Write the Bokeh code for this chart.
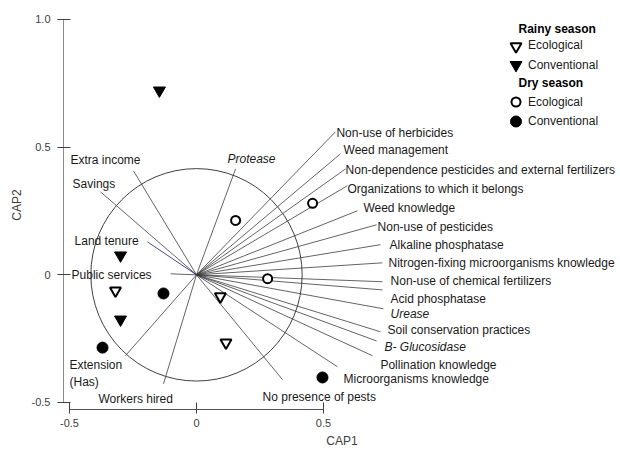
from bokeh.plotting import figure
from bokeh.models import FixedTicker, CustomJSTickFormatter, ColumnDataSource
from bokeh.core.properties import value
from bokeh.embed import file_html
from bokeh.resources import INLINE

# ---- sample scores (CAP1, CAP2) ----
rainy_eco_x = [-0.319, 0.094, 0.116]
rainy_eco_y = [-0.062, -0.085, -0.266]
rainy_conv_x = [-0.146, -0.299, -0.299]
rainy_conv_y = [0.722, 0.076, -0.175]
dry_eco_x = [0.154, 0.457, 0.280]
dry_eco_y = [0.213, 0.280, -0.015]
dry_conv_x = [-0.130, -0.370, 0.496]
dry_conv_y = [-0.073, -0.285, -0.402]

# ---- variable vectors (correlations) ----
var_names = [
    "Non-use of herbicides", "Weed management",
    "Non-dependence pesticides and external fertilizers",
    "Organizations to which it belongs", "Weed knowledge",
    "Non-use of pesticides", "Alkaline phosphatase",
    "Nitrogen-fixing microorganisms knowledge",
    "Non-use of chemical fertilizers", "Acid phosphatase", "Urease",
    "Soil conservation practices", "B- Glucosidase",
    "Pollination knowledge", "Microorganisms knowledge",
    "No presence of pests", "Protease", "Extra income", "Savings",
    "Land tenure", "Public services", "Extension\n(Has)", "Workers hired",
]
var_x = [0.547, 0.567, 0.587, 0.594, 0.634, 0.709, 0.724, 0.732, 0.732, 0.732,
         0.736, 0.724, 0.709, 0.693, 0.555, 0.339, 0.154, -0.248, -0.378,
         -0.193, -0.102, -0.280, -0.130]
var_y = [0.560, 0.474, 0.415, 0.349, 0.251, 0.196, 0.118, 0.047, -0.027, -0.059,
         -0.133, -0.223, -0.259, -0.317, -0.360, -0.411, 0.415, 0.407, 0.325,
         0.129, 0.004, -0.317, -0.427]
var_italic = [False] * 10 + [True, False, True, False, False, False, True] + [False] * 6
var_color = ["#3c3c3c"] * 19 + ["#1c1c78"] + ["#3c3c3c"] * 3
# label anchor positions (left edge, vertical middle)
lab_x = [0.551, 0.579, 0.587, 0.594, 0.657, 0.713, 0.760, 0.756, 0.764, 0.764,
         0.764, 0.752, 0.740, 0.724, 0.579, 0.260, 0.122, -0.496, -0.488,
         -0.480, -0.492, -0.500, -0.386]
lab_y = [0.554, 0.487, 0.409, 0.338, 0.260, 0.189, 0.115, 0.048, -0.026, -0.093,
         -0.155, -0.218, -0.281, -0.352, -0.407, -0.477, 0.452, 0.448, 0.354,
         0.131, 0.001, -0.385, -0.485]

circle_r = [0.416]
x_ticks = [-0.5, 0, 0.5]
y_ticks = [-0.5, 0, 0.5, 1.0]

# legend content
legend_titles = ["Rainy season", "Dry season"]
legend_labels = ["Ecological", "Conventional", "Ecological", "Conventional"]

FONT = "Liberation Sans"

X0, X1 = -0.52362, 1.66929
Y0, Y1 = -0.52742, 1.07441
FW, FH = 557, 409

p = figure(frame_width=FW, frame_height=FH, x_range=(X0, X1), y_range=(Y0, Y1),
           min_border_left=63, min_border_right=0, min_border_top=0, min_border_bottom=40,
           output_backend="svg", toolbar_location=None)
p.xgrid.visible = False
p.ygrid.visible = False
p.outline_line_color = None


def sx(px):  # screen x (frame px) -> data
    return X0 + px / FW * (X1 - X0)


def sy(py):  # screen y from top (frame px) -> data
    return Y1 - py / FH * (Y1 - Y0)


vec = ColumnDataSource(dict(x0=[0] * len(var_x), y0=[0] * len(var_y), x1=var_x, y1=var_y,
                            c=var_color))
p.segment(x0="x0", y0="y0", x1="x1", y1="y1", line_color="c", line_width=0.8, source=vec)
p.ellipse(x=[0], y=[0], width=[2 * r for r in circle_r], height=[2 * r for r in circle_r],
          fill_color=None, line_color="#404040", line_width=1)

open_tri = dict(marker="inverted_triangle", size=11, fill_color="white", line_color="black", line_width=2)
full_tri = dict(marker="inverted_triangle", size=12, fill_color="black", line_color="black", line_width=1)
open_cir = dict(marker="circle", size=9, fill_color="white", line_color="black", line_width=2)
full_cir = dict(marker="circle", size=11, fill_color="black", line_color="black", line_width=1)

p.scatter(rainy_eco_x, rainy_eco_y, **open_tri)
p.scatter(rainy_conv_x, rainy_conv_y, **full_tri)
p.scatter(dry_eco_x, dry_eco_y, **open_cir)
p.scatter(dry_conv_x, dry_conv_y, **full_cir)

reg = ColumnDataSource(dict(x=[lab_x[i] for i in range(len(lab_x)) if not var_italic[i]],
                            y=[lab_y[i] for i in range(len(lab_y)) if not var_italic[i]],
                            t=[var_names[i] for i in range(len(var_names)) if not var_italic[i]]))
ita = ColumnDataSource(dict(x=[lab_x[i] for i in range(len(lab_x)) if var_italic[i]],
                            y=[lab_y[i] for i in range(len(lab_y)) if var_italic[i]],
                            t=[var_names[i] for i in range(len(var_names)) if var_italic[i]]))
p.text(x="x", y="y", text="t", source=reg, text_font=value(FONT), text_font_size="12px",
       text_color="#1a1a1a", text_baseline="middle", text_align="left")
p.text(x="x", y="y", text="t", source=ita, text_font=value(FONT), text_font_size="12px",
       text_font_style="italic", text_color="#1a1a1a", text_baseline="middle", text_align="left")

# ---- legend (drawn in the plot's top-right corner; layout in frame pixels) ----
leg_marker_px = 452.5
leg_text_px = 464.5
leg_title_px = 455
leg_title_py = [28.5, 82.5]
leg_marker_py = [46, 64.5, 101.5, 121]
leg_text_py = [44.5, 64, 101, 120]
p.text(x=[sx(leg_title_px)] * 2, y=[sy(v) for v in leg_title_py], text=legend_titles,
       text_font=value(FONT), text_font_size="12px", text_font_style="bold",
       text_color="black", text_baseline="middle", text_align="left")
p.text(x=[sx(leg_text_px)] * 4, y=[sy(v) for v in leg_text_py], text=legend_labels,
       text_font=value(FONT), text_font_size="12px", text_color="#1a1a1a",
       text_baseline="middle", text_align="left")
for style, py in zip([open_tri, full_tri, open_cir, full_cir], leg_marker_py):
    p.scatter([sx(leg_marker_px)], [sy(py)], **style)

# axes
xa = p.xaxis[0]
xa.bounds = (-0.5, 0.5)
xa.ticker = FixedTicker(ticks=x_ticks)
ya = p.yaxis[0]
ya.bounds = (-0.5, 1.0)
ya.ticker = FixedTicker(ticks=y_ticks)
fmt = "return tick == 0 ? '0' : tick.toFixed(1);"
for ax in (xa, ya):
    ax.formatter = CustomJSTickFormatter(code=fmt)
    ax.minor_tick_line_color = None
    ax.major_tick_line_color = "#404040"
    ax.major_label_text_font = FONT
    ax.major_label_text_font_size = "11px"
    ax.major_label_text_color = "#404040"
    ax.axis_label_text_font = FONT
    ax.axis_label_text_font_size = "12px"
    ax.axis_label_text_font_style = "normal"
    ax.axis_label_text_color = "#404040"
xa.axis_label = "CAP1"
xa.axis_line_color = "#505050"
xa.major_tick_in = 7
xa.major_tick_out = 4
xa.major_label_standoff = 5
xa.axis_label_standoff = 4
ya.axis_label = "CAP2"
ya.axis_line_color = "#8c8c8c"
ya.major_tick_in = 7
ya.major_tick_out = 6
ya.major_label_standoff = 7
ya.axis_label_standoff = 5

open("out.html", "w").write(file_html(p, INLINE))
